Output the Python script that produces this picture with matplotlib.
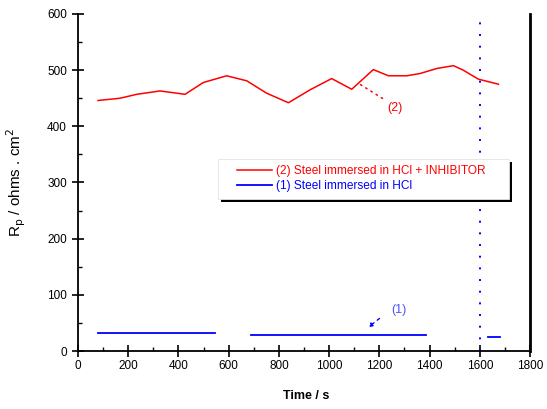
import matplotlib
matplotlib.use("Agg")
import matplotlib.pyplot as plt
from matplotlib.ticker import MultipleLocator
from matplotlib.patches import Rectangle

plt.rcParams['font.family'] = ['Liberation Sans', 'DejaVu Sans']

# Series (2): steel immersed in HCl + inhibitor
t2 = [80, 167, 234, 327, 426, 499, 592, 672, 751, 838, 924, 1010, 1090, 1176,
      1236, 1309, 1362, 1429, 1495, 1534, 1594, 1674]
r2 = [446, 450, 457, 463, 457, 478, 490, 481, 459, 442, 465, 485, 466, 501,
      490, 490, 494, 503, 508, 500, 484, 475]

# Series (1): steel in HCl (segments)
seg1_t = [81, 546]
seg1_r = [32, 32]
seg2_t = [688, 1385]
seg2_r = [28, 28]
seg3_t = [1632, 1681]
seg3_r = [25, 25]

# vertical dotted marker
vline_t = [1600, 1600]
vline_r = [0, 588]

xticks = [0, 200, 400, 600, 800, 1000, 1200, 1400, 1600, 1800]
yticks = [0, 100, 200, 300, 400, 500, 600]

label2 = "(2) Steel immersed in HCl + INHIBITOR"
label1 = "(1) Steel immersed in HCl"

fig = plt.figure(figsize=(5.47, 4.09), dpi=100)
ax = fig.add_axes([0.1426, 0.1418, 0.969 - 0.1426, 0.9658 - 0.1418])

ax.plot(t2, r2, color='red', lw=1.1, label=label2)
ax.plot(seg1_t, seg1_r, color='blue', lw=1.3, label=label1)
ax.plot(seg2_t, seg2_r, color='blue', lw=1.3)
ax.plot(seg3_t, seg3_r, color='blue', lw=1.3)
ax.plot(vline_t, vline_r, color='blue', lw=1.4, ls=(0, (1, 5)))

# annotations
ax.annotate('', xy=(1115, 477), xytext=(1222, 447),
            arrowprops=dict(arrowstyle='-', color='red', lw=1.1, ls=(0, (1, 3))))
ax.text(1262, 432, '(2)', color='red', fontsize=9, ha='center', va='center')
ax.annotate('', xy=(1147, 39), xytext=(1209, 61),
            arrowprops=dict(arrowstyle='-|>', color='blue', lw=1.0, ls=(0, (2, 3)),
                            mutation_scale=6))
ax.text(1276, 73, '(1)', color='#5050ff', fontsize=9, ha='center', va='center')

ax.set_xlim(0, 1800)
ax.set_ylim(0, 600)
ax.set_xticks(xticks)
ax.set_yticks(yticks)
ax.xaxis.set_minor_locator(MultipleLocator(100))
ax.yaxis.set_minor_locator(MultipleLocator(50))
ax.tick_params(which='major', direction='inout', length=9, width=1.2, labelsize=8.5)
ax.tick_params(which='minor', direction='in', length=3, width=1.0)
ax.tick_params(axis='x', pad=2)

ax.spines['top'].set_visible(False)
ax.spines['left'].set_linewidth(1.3)
ax.spines['bottom'].set_linewidth(1.3)
ax.spines['right'].set_linewidth(2.0)

ax.set_xlabel('Time / s', fontsize=9, fontweight='bold')
ax.xaxis.set_label_coords(0.505, -0.115)
ax.set_ylabel(r'R$_\mathrm{p}$ / ohms . cm$^2$', fontsize=11)
ax.yaxis.set_label_coords(-0.11, 0.5)

# legend box (frame + shadow) in axes coordinates
bx0, bx1 = 0.310, 0.9535
by0, by1 = 0.451, 0.570
off_x, off_y = 3 / 452, 3 / 337
ax.add_patch(Rectangle((bx0 + off_x, by0 - off_y), bx1 - bx0, by1 - by0,
                       transform=ax.transAxes, facecolor='black', edgecolor='none',
                       zorder=8, clip_on=False))
ax.add_patch(Rectangle((bx0, by0), bx1 - bx0, by1 - by0,
                       transform=ax.transAxes, facecolor='white', edgecolor='#e4e4e4',
                       lw=0.6, zorder=9, clip_on=False))

leg = ax.legend(loc='center left', bbox_to_anchor=(0.352, (by0 + by1) / 2),
                fontsize=8.6, handlelength=2.9, frameon=False,
                borderpad=0, labelspacing=0.25, handletextpad=0.35,
                borderaxespad=0)
leg.set_zorder(10)
for txt, col in zip(leg.get_texts(), ['red', 'blue']):
    txt.set_color(col)

fig.savefig('out.png', dpi=100)
